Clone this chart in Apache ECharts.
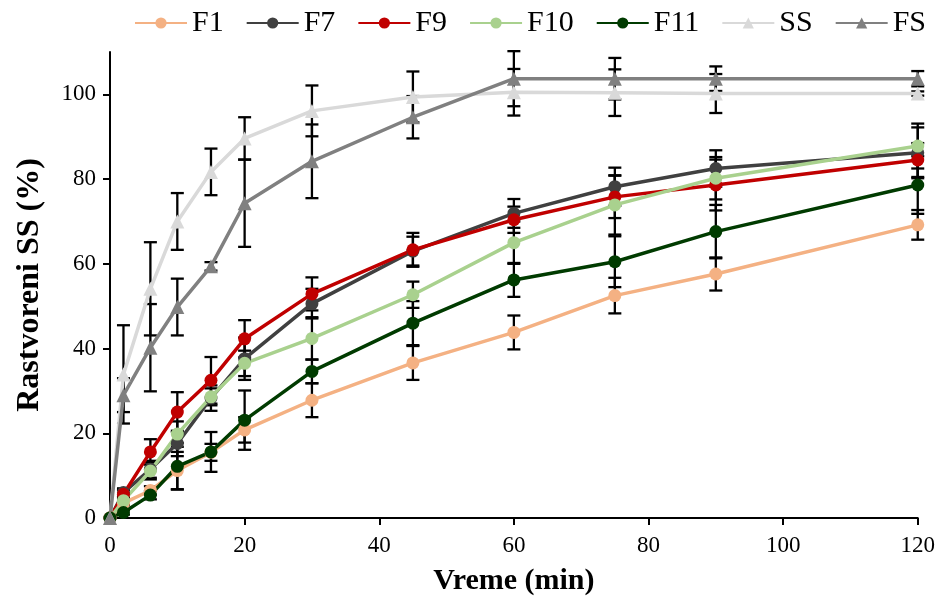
<!DOCTYPE html>
<html>
<head>
<meta charset="utf-8">
<script src="https://cdn.jsdelivr.net/npm/echarts@6/dist/echarts.min.js"></script>
<style>html,body{margin:0;padding:0;background:#fff;}#c{width:938px;height:601px;}</style>
</head>
<body>
<div id="c"></div>
<script>
const time = [0, 2, 6, 10, 15, 20, 30, 45, 60, 75, 90, 120];
const yTicks = [0, 20, 40, 60, 80, 100];
const names = ['F1', 'F7', 'F9', 'F10', 'F11', 'SS', 'FS'];

const F1  = [0, 3.5, 6.5, 11.2, 15.5, 20.8, 27.8, 36.6, 43.8, 52.5, 57.6, 69.2];
const F7  = [0, 6.0, 11.5, 17.6, 28.3, 37.6, 50.6, 63.0, 71.9, 78.2, 82.5, 86.2];
const F9  = [0, 5.6, 15.6, 25.0, 32.5, 42.3, 52.9, 63.3, 70.4, 75.8, 78.6, 84.5];
const F10 = [0, 4.1, 11.1, 19.8, 28.6, 36.5, 42.4, 52.7, 65.0, 73.9, 80.2, 87.8];
const F11 = [0, 1.3, 5.4, 12.2, 15.6, 23.1, 34.6, 46.0, 56.2, 60.5, 67.6, 78.6];
const SS  = [0, 33.9, 54.1, 70.0, 81.7, 89.6, 96.1, 99.4, 100.5, 100.4, 100.2, 100.2];
const FS  = [0, 29.0, 40.2, 49.8, 59.4, 74.3, 84.2, 94.6, 103.7, 103.7, 103.7, 103.7];

const F1err  = [0, 0.5, 1.0, 4.4, 2.0, 3.0, 4.0, 4.0, 4.0, 4.2, 3.9, 3.5];
const F7err  = [0, 1.0, 2.0, 3.0, 3.0, 5.0, 3.5, 3.4, 3.4, 4.5, 4.3, 6.0];
const F9err  = [0, 1.0, 3.0, 4.7, 5.5, 4.4, 3.9, 4.0, 3.1, 5.0, 6.0, 4.0];
const F10err = [0, 1.0, 2.0, 3.0, 2.0, 3.0, 5.0, 3.1, 5.0, 7.0, 5.0, 5.3];
const F11err = [0, 0.5, 1.0, 5.5, 4.7, 7.0, 2.8, 5.2, 4.0, 6.0, 6.3, 6.8];
const SSerr  = [0, 11.6, 11.0, 6.7, 5.5, 5.0, 6.0, 6.0, 5.5, 5.5, 4.6, 0.5];
const FSerr  = [0, 4.0, 10.3, 6.7, 1.0, 10.3, 8.7, 5.0, 6.5, 4.9, 2.9, 1.8];

const values = [F1, F7, F9, F10, F11, SS, FS];
const errors = [F1err, F7err, F9err, F10err, F11err, SSerr, FSerr];
const colors = ['#F4B183', '#404040', '#C00000', '#A9D18E', '#003B00', '#D9D9D9', '#808080'];
const symbols = ['circle', 'circle', 'circle', 'circle', 'circle', 'triangle', 'triangle'];

const font = 'Liberation Serif';
const series = [];

values.forEach(function (vals, i) {
  const errData = [];
  time.forEach(function (t, j) {
    if (errors[i][j] > 0) errData.push([t, vals[j] - errors[i][j], vals[j] + errors[i][j]]);
  });
  series.push({
    type: 'custom',
    z: 1,
    clip: false,
    silent: true,
    encode: { x: 0, y: [1, 2] },
    data: errData,
    renderItem: function (params, api) {
      const x = api.value(0), lo = api.value(1), hi = api.value(2);
      const p1 = api.coord([x, hi]), p2 = api.coord([x, lo]);
      const w = 6.5;
      const st = { stroke: '#000', lineWidth: 2.3 };
      return {
        type: 'group',
        children: [
          { type: 'line', shape: { x1: p1[0], y1: p1[1], x2: p2[0], y2: p2[1] }, style: st },
          { type: 'line', shape: { x1: p1[0] - w, y1: p1[1], x2: p1[0] + w, y2: p1[1] }, style: st },
          { type: 'line', shape: { x1: p2[0] - w, y1: p2[1], x2: p2[0] + w, y2: p2[1] }, style: st }
        ]
      };
    }
  });
});

values.forEach(function (vals, i) {
  series.push({
    name: names[i],
    type: 'line',
    z: 3,
    data: time.map(function (t, j) { return [t, vals[j]]; }),
    symbol: symbols[i],
    symbolSize: symbols[i] === 'triangle' ? 14 : 13,
    showAllSymbol: true,
    lineStyle: { color: colors[i], width: 3.5 },
    itemStyle: { color: colors[i] },
    emphasis: { disabled: true },
    animation: false
  });
});

const chart = echarts.init(document.getElementById('c'), null, { renderer: 'canvas' });
chart.setOption({
  animation: false,
  backgroundColor: '#fff',
  grid: { left: 110, right: 19, top: 52, bottom: 82, containLabel: false },
  legend: {
    data: names,
    top: 8,
    left: 134,
    width: 804,
    padding: 0,
    itemWidth: 52,
    itemHeight: 14,
    itemGap: 22,
    textStyle: { fontFamily: font, fontSize: 30, color: '#000' }
  },
  xAxis: {
    type: 'value',
    min: 0, max: 120, interval: 20,
    name: 'Vreme (min)',
    nameLocation: 'middle',
    nameGap: 48,
    nameTextStyle: { fontFamily: font, fontSize: 30, fontWeight: 'bold', color: '#000' },
    axisLine: { show: true, lineStyle: { color: '#000', width: 2 } },
    axisTick: { show: true, inside: false, length: 7, lineStyle: { color: '#000', width: 2 } },
    axisLabel: { fontFamily: font, fontSize: 23, color: '#000', margin: 16 },
    splitLine: { show: false }
  },
  yAxis: {
    type: 'value',
    min: 0, max: 110, interval: 20,
    name: 'Rastvoreni SS (%)',
    nameLocation: 'middle',
    nameGap: 64,
    nameTextStyle: { fontFamily: font, fontSize: 32, fontWeight: 'bold', color: '#000' },
    axisLine: { show: true, lineStyle: { color: '#000', width: 2 } },
    axisTick: { show: true, inside: false, length: 7, lineStyle: { color: '#000', width: 2 }, customValues: yTicks },
    axisLabel: { fontFamily: font, fontSize: 23, color: '#000', margin: 14, customValues: yTicks },
    splitLine: { show: false }
  },
  series: series
});
</script>
</body>
</html>
